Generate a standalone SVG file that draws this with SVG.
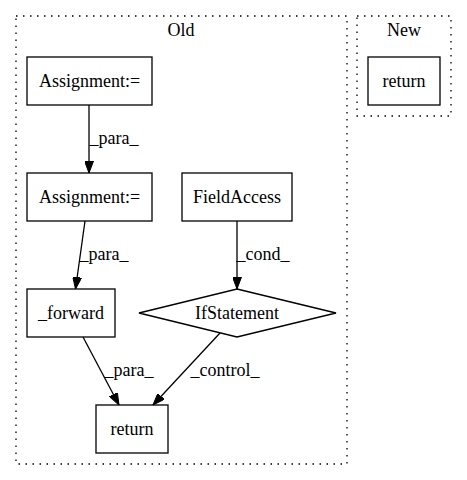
<svg xmlns="http://www.w3.org/2000/svg" width="467" height="480" viewBox="0 0 467 480">
<defs>
<style>
text{font-family:"Liberation Serif","Times New Roman",serif;font-size:18px;fill:#000}
.c{fill:none;stroke:#000;stroke-width:1.3;stroke-dasharray:1.5,5.5}
.n{fill:none;stroke:#000;stroke-width:1.3}
.e{fill:none;stroke:#000;stroke-width:1.3}
</style>
<marker id="a" markerWidth="12" markerHeight="9" refX="12" refY="4.5" orient="auto" markerUnits="userSpaceOnUse">
<polygon points="0,0 12,4.5 0,9" fill="#000" stroke="#000"/>
</marker>
</defs>
<rect width="467" height="480" fill="#fff"/>
<g id="cluster_old">
<rect class="c" x="16" y="16" width="331" height="448"/>
<text x="181" y="36" text-anchor="middle">Old</text>
</g>
<g id="cluster_new">
<rect class="c" x="357" y="16" width="94" height="100"/>
<text x="404" y="36" text-anchor="middle">New</text>
</g>
<g id="assign1">
<rect class="n" x="27" y="57" width="125" height="48"/>
<text x="89.5" y="87" text-anchor="middle">Assignment:=</text>
</g>
<g id="assign2">
<rect class="n" x="27" y="173" width="125" height="48"/>
<text x="89.5" y="203" text-anchor="middle">Assignment:=</text>
</g>
<g id="fieldaccess">
<rect class="n" x="182" y="173" width="110" height="48"/>
<text x="237" y="203" text-anchor="middle">FieldAccess</text>
</g>
<g id="newreturn">
<rect class="n" x="368" y="57" width="72" height="48"/>
<text x="404" y="87" text-anchor="middle">return</text>
</g>
<g id="forward">
<rect class="n" x="27" y="289" width="88" height="48"/>
<text x="71" y="319" text-anchor="middle">_forward</text>
</g>
<g id="ifstatement">
<polygon class="n" points="237,289 336,313 237,337 139,313"/>
<text x="237" y="319" text-anchor="middle">IfStatement</text>
</g>
<g id="oldreturn">
<rect class="n" x="96" y="405" width="72" height="48"/>
<text x="132" y="435" text-anchor="middle">return</text>
</g>
<g id="edges">
<line class="e" x1="89" y1="105" x2="89" y2="173" marker-end="url(#a)"/>
<text x="114" y="144" text-anchor="middle">_para_</text>
<line class="e" x1="85" y1="221" x2="75.5" y2="289" marker-end="url(#a)"/>
<text x="104" y="260" text-anchor="middle">_para_</text>
<line class="e" x1="237" y1="221" x2="237" y2="289" marker-end="url(#a)"/>
<text x="263" y="260" text-anchor="middle">_cond_</text>
<line class="e" x1="83" y1="337" x2="119" y2="405" marker-end="url(#a)"/>
<text x="129" y="376" text-anchor="middle">_para_</text>
<line class="e" x1="220" y1="333" x2="153" y2="405" marker-end="url(#a)"/>
<text x="225" y="376" text-anchor="middle">_control_</text>
</g>
</svg>
